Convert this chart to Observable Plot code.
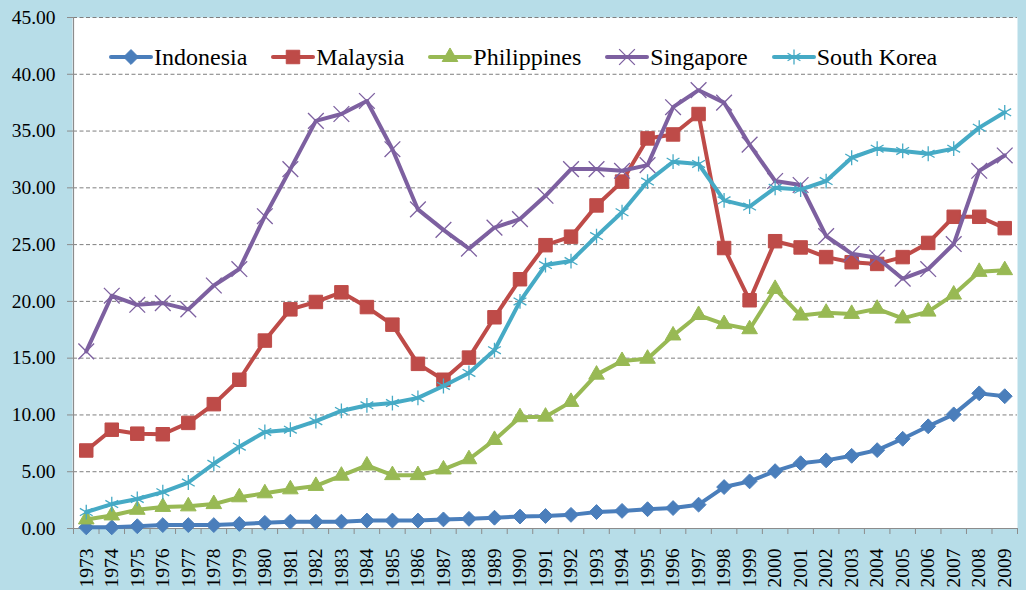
<!DOCTYPE html>
<html><head><meta charset="utf-8">
<script src="https://cdn.jsdelivr.net/npm/d3@7"></script>
<script src="https://cdn.jsdelivr.net/npm/@observablehq/plot@0.6"></script>
<style>
html,body{margin:0;padding:0;background:#b7dde8;}
#wrap{position:relative;width:1026px;height:590px;overflow:hidden;background:#b7dde8;}
#legend{position:absolute;left:110px;top:45px;height:24px;display:flex;align-items:center;gap:25px;font-family:"Liberation Serif","Times New Roman",Times,"Tinos","DejaVu Serif","Noto Serif",serif;font-size:24px;color:#000;white-space:nowrap;}
.item{display:flex;align-items:center;}
.item svg{display:block;margin-right:2px;overflow:visible;}
svg text{font-family:"Liberation Serif","Times New Roman",Times,"Tinos","DejaVu Serif","Noto Serif",serif;}
</style></head><body>
<div id="wrap"><div id="chartHost"></div><div id="legend"></div></div>
<script>
const years = [1973,1974,1975,1976,1977,1978,1979,1980,1981,1982,1983,1984,1985,1986,1987,1988,1989,1990,1991,1992,1993,1994,1995,1996,1997,1998,1999,2000,2001,2002,2003,2004,2005,2006,2007,2008,2009];
const indonesia = [0.1,0.1,0.2,0.3,0.3,0.3,0.4,0.5,0.6,0.6, 0.6,0.7,0.7,0.7,0.8,0.85,0.95,1.05,1.1,1.2, 1.45,1.55,1.7,1.8,2.1,3.65,4.15,5.05,5.75,6.0, 6.4,6.9,7.9,9.0,10.05,11.9,11.65];
const malaysia = [6.87,8.7,8.35,8.3,9.3,10.95,13.1,16.55,19.3,19.95, 20.8,19.5,17.95,14.5,13.1,15.05,18.6,21.95,24.95,25.7, 28.45,30.55,34.35,34.7,36.5,24.7,20.1,25.3,24.75,23.9, 23.45,23.3,23.9,25.15,27.45,27.45,26.45];
const philippines = [0.8,1.15,1.65,1.9,1.95,2.15,2.75,3.1,3.45,3.75, 4.65,5.55,4.7,4.7,5.2,6.1,7.8,9.8,9.85,11.15, 13.55,14.75,14.95,17.0,18.8,18.0,17.55,21.1,18.75,19.0, 18.9,19.35,18.5,19.1,20.6,22.6,22.75];
const singapore = [15.6,20.5,19.7,19.85,19.3,21.4,22.85,27.5,31.65,35.9, 36.5,37.65,33.4,28.1,26.3,24.65,26.5,27.25,29.3,31.65, 31.65,31.5,32.0,37.1,38.6,37.5,33.8,30.6,30.25,25.75, 24.2,23.85,22.0,22.85,25.05,31.5,32.85];
const southKorea = [1.45,2.15,2.6,3.2,4.05,5.7,7.2,8.5,8.7,9.45, 10.35,10.85,11.05,11.5,12.55,13.7,15.7,20.0,23.2,23.55, 25.75,27.85,30.55,32.3,32.1,28.9,28.35,30.0,29.85,30.6, 32.65,33.45,33.25,33.0,33.45,35.3,36.65];
const seriesNames = ["Indonesia","Malaysia","Philippines","Singapore","South Korea"];
const yTicks = [0,5,10,15,20,25,30,35,40,45];

const styles = {
  "Indonesia":   {values: indonesia,   color:"#4a7ebb", symbol:"diamond2", d3sym: d3.symbolDiamond2, r:6.7, filled:true,  sw:1},
  "Malaysia":    {values: malaysia,    color:"#be4b48", symbol:"square",   d3sym: d3.symbolSquare,   r:7.6, filled:true,  sw:1},
  "Philippines": {values: philippines, color:"#98b954", symbol:"triangle", d3sym: d3.symbolTriangle, r:5.8, filled:true,  sw:1},
  "Singapore":   {values: singapore,   color:"#7d60a0", symbol:"times",    d3sym: d3.symbolTimes,    r:7.2, filled:false, sw:1.3},
  "South Korea": {values: southKorea,  color:"#46aac5", symbol:"asterisk", d3sym: d3.symbolAsterisk, r:7.0, filled:false, sw:1.3}
};

const rows = seriesNames.flatMap(name => years.map((yr, i) => ({name, year: yr, value: styles[name].values[i]})));
const bounds = d3.range(years[0] - 0.5, years[years.length - 1] + 1, 1);

const seriesMarks = seriesNames.flatMap(name => {
  const s = styles[name];
  const data = rows.filter(d => d.name === name);
  return [
    Plot.line(data, {x: "year", y: "value", stroke: s.color, strokeWidth: 4, strokeLinejoin: "round", strokeLinecap: "round"}),
    Plot.dot(data, {x: "year", y: "value", symbol: s.symbol, r: s.r, fill: s.filled ? s.color : "none", stroke: s.color, strokeWidth: s.sw})
  ];
});

const FONT = "'Liberation Serif','Times New Roman',Times,Tinos,'DejaVu Serif','Noto Serif',serif";
const chart = Plot.plot({
  width: 1026,
  height: 590,
  marginLeft: 73,
  marginRight: 9,
  marginTop: 17,
  marginBottom: 62,
  style: {fontFamily: FONT, fontSize: "19.5px", color: "#000", background: "transparent", overflow: "visible"},
  x: {type: "linear", domain: [years[0] - 0.5, years[years.length - 1] + 0.5]},
  y: {domain: [0, 45]},
  marks: [
    Plot.frame({fill: "white", stroke: "none", insetLeft: -1}),
    Plot.gridY(yTicks, {stroke: "#7f7f7f", strokeOpacity: 1, strokeDasharray: "4,2.5", strokeWidth: 1}),
    Plot.axisY(yTicks, {tickSize: 6, tickPadding: 12, tickFormat: d3.format(".2f"), stroke: "#8c8c8c", label: null, fontFamily: FONT}),
    Plot.axisX(bounds, {tickSize: 6, tickFormat: () => "", stroke: "#8c8c8c", label: null}),
    Plot.axisX(years, {tickSize: 0, tickPadding: 20, tickRotate: -90, tickFormat: d => String(d), label: null, fontFamily: FONT}),
    Plot.ruleX([years[0] - 0.5], {stroke: "#8c8c8c", strokeWidth: 1.2}),
    Plot.ruleY([0], {stroke: "#8c8c8c", strokeWidth: 1.2}),
    ...seriesMarks
  ]
});
document.getElementById("chartHost").appendChild(chart);

// legend
const legend = d3.select("#legend");
seriesNames.forEach(name => {
  const s = styles[name];
  const item = legend.append("div").attr("class", "item");
  const svg = item.append("svg").attr("width", 42).attr("height", 20);
  svg.append("line").attr("x1", 1).attr("x2", 41).attr("y1", 10).attr("y2", 10)
    .attr("stroke", s.color).attr("stroke-width", 4).attr("stroke-linecap", "round");
  svg.append("path").attr("transform", "translate(21,10)")
    .attr("d", d3.symbol(s.d3sym, Math.PI * s.r * s.r)())
    .attr("fill", s.filled ? s.color : "none").attr("stroke", s.color).attr("stroke-width", s.sw);
  item.append("span").text(name);
});
</script>
</body></html>
